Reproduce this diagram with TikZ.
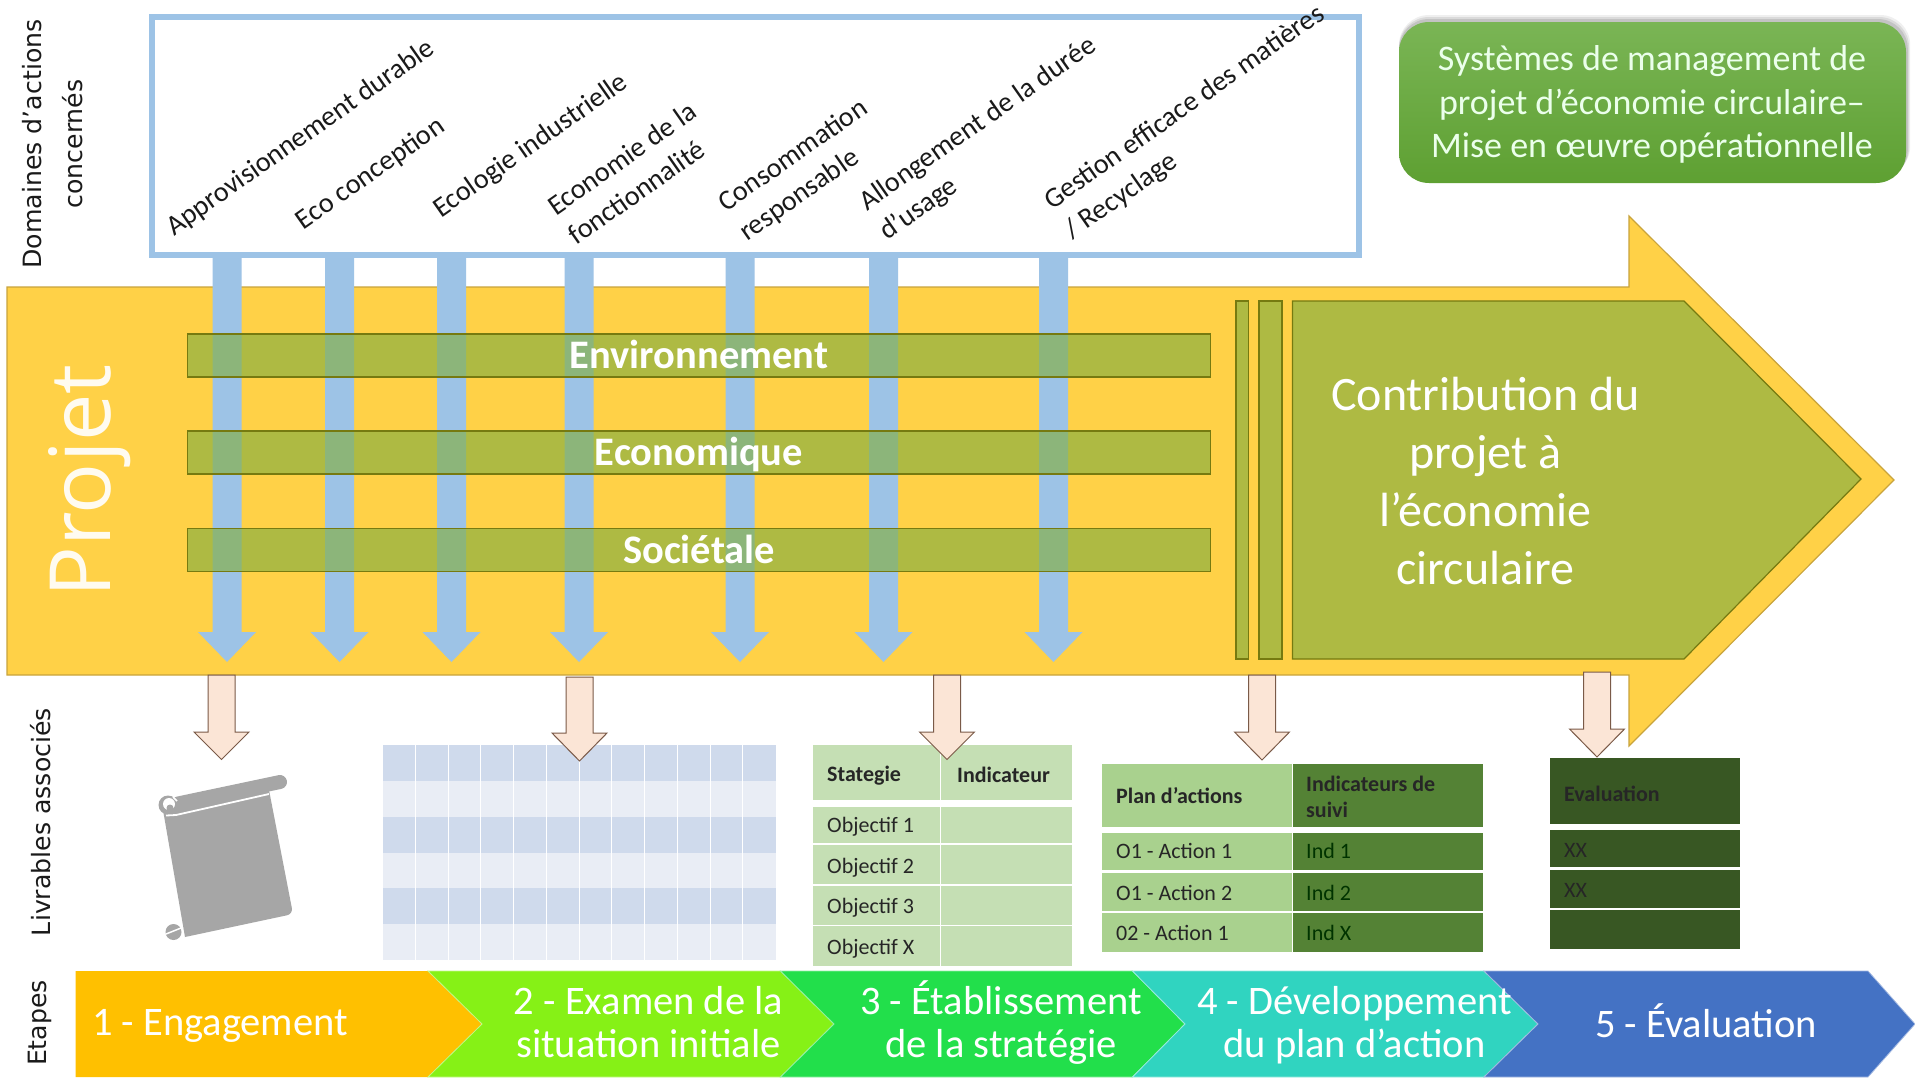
\documentclass[tikz,border=0pt]{standalone}
\usepackage{fontspec}
\setmainfont{Carlito}
\newfontfamily\sidefont{DejaVu Sans}
\newfontfamily\projfont{Open Sans}
\definecolor{gold}{HTML}{FFD147}
\definecolor{goldline}{HTML}{C9A43C}
\definecolor{skyb}{HTML}{9DC3E6}
\definecolor{barg}{HTML}{83AF41}
\definecolor{barline}{HTML}{767A10}
\definecolor{pinkf}{HTML}{FBE5D6}
\definecolor{pinkl}{HTML}{7A5A48}
\definecolor{tdark}{HTML}{CFDAEC}
\definecolor{tlight}{HTML}{E9EDF5}
\definecolor{lgreen}{HTML}{C5DFB4}
\definecolor{mgreen}{HTML}{A9D18E}
\definecolor{dgreen}{HTML}{548235}
\definecolor{xgreen}{HTML}{385723}
\definecolor{chevA}{HTML}{FFC000}
\definecolor{chevB}{HTML}{86F116}
\definecolor{chevC}{HTML}{22DF4B}
\definecolor{chevD}{HTML}{30D4C0}
\definecolor{chevE}{HTML}{4472C4}
\definecolor{inkd}{HTML}{1A1A1A}
\definecolor{scrollg}{HTML}{A6A6A6}
\definecolor{titletop}{HTML}{7AB555}
\definecolor{titlebot}{HTML}{5EA032}
\newcommand{\fs}[2]{\fontsize{#1}{#2}\selectfont}
% block arrow: centre x, top, shoulder, tip, half shaft, half head, style
\newcommand{\blockarrow}[7]{\path[#7] ({#1-#5},#2) -- ({#1+#5},#2) -- ({#1+#5},#3) -- ({#1+#6},#3) -- (#1,#4) -- ({#1-#6},#3) -- ({#1-#5},#3) -- cycle;}
\tikzset{
  x=1pt,y=-1pt,
  barstyle/.style={fill=barg,fill opacity=.65,text opacity=1,draw=barline,line width=1.2pt},
  barlabel/.style={barstyle,text=white,inner sep=0pt,text height=26pt,text depth=0pt,font=\bfseries\fs{40.5}{46}},
  skyarrow/.style={fill=skyb},
  pinkarrow/.style={fill=pinkf,draw=pinkl,line width=1pt},
  rotlab/.style={rotate=35,anchor=north west,inner sep=0pt,align=left,text=inkd,font=\fs{28.2}{36}},
  sidelab/.style={rotate=90,align=center,text=inkd,inner sep=0pt,font=\sidefont\fs{25.2}{41}},
  chevtext/.style={text=white,align=center,inner sep=0pt,font=\fs{40.5}{43}},
  cellA/.style={anchor=west,inner sep=0pt,text=black!85,font=\fs{22}{26}},
  cellB/.style={cellA,font=\bfseries\fs{22}{26}},
  cellD/.style={cellB,align=left},
}
\begin{document}
\begin{tikzpicture}
\useasboundingbox (0,0) rectangle (1915,1077);
\fill[white] (0,0) rectangle (1915,1077);
% main yellow arrow
\path[fill=gold,draw=goldline,line width=1.2pt] (7,287) -- (1629,287) -- (1629,216) -- (1894,480) -- (1629,746) -- (1629,675) -- (7,675) -- cycle;
% blue arrows
\foreach \cx in {227,339.5,451.5,579,740,883.5,1053.5}{\blockarrow{\cx}{256}{632}{662}{14.5}{29}{skyarrow}}
% top frame
\node (frame) [draw=skyb,fill=white,line width=5.5pt,minimum width=1207pt,minimum height=238pt,inner sep=0pt] at (755.5,136) {};
% horizontal bars
\node (env) [barlabel,minimum width=1022.5pt,minimum height=43pt] at (699,355.5) {Environnement};
\node (eco) [barlabel,minimum width=1022.5pt,minimum height=43pt] at (699,452.5) {Economique};
\node (soc) [barlabel,minimum width=1022.5pt,minimum height=43pt] at (699,550) {Sociétale};
% contribution shape and stripes
\path[barstyle] (1236,301) rectangle (1248.5,659);
\path[barstyle] (1259,301) rectangle (1282,659);
\path[barstyle] (1292.5,301) -- (1684,301) -- (1861,479) -- (1684,659) -- (1292.5,659) -- cycle;
\node (contrib) [text=white,align=center,inner sep=0pt,font=\fs{48}{58}] at (1485.5,481) {Contribution du\\projet à\\l’économie\\circulaire};
% title box
\foreach \o/\p in {7/.12,5/.18,3/.25}{\fill[gray,opacity=\p,rounded corners=30pt] (1399,{22-\o}) rectangle ({1906+\o*.6},{183-\o});}
\node (title) [top color=titletop,bottom color=titlebot,rounded corners=30pt,minimum width=507pt,minimum height=161pt,inner sep=0pt] at (1652.5,102.5) {};
\node (titletext) [text=white!92!green,align=center,inner sep=0pt,font=\fs{36}{43.5}] at (1652,104.5) {Systèmes de management de\\projet d’économie circulaire–\\Mise en œuvre opérationnelle};
% side labels
\node (domaines) [sidelab] at (53,144) {Domaines d’actions\\concernés};
\node (livrables) [sidelab] at (41,822) {Livrables associés};
\node (etapes) [sidelab] at (40,1023) {Etapes};
\node (projet) [rotate=90,anchor=base,inner sep=0pt,text=white!92!gold,font=\projfont\fs{84.5}{90}] at (110,481) {Projet};
% rotated labels
\node (l1) [rotlab] at (162.5,220) {Approvisionnement durable};
\node (l2) [rotlab] at (292.5,214) {Eco conception};
\node (l3) [rotlab] at (429.5,202) {Ecologie industrielle};
\node (l4) [rotlab] at (544.5,200) {Economie de la\\fonctionnalité};
\node (l5) [rotlab] at (715,196) {Consommation\\responsable};
\node (l6) [rotlab] at (855.5,195) {Allongement de la durée\\d’usage};
\node (l7) [rotlab] at (1040.5,194) {Gestion efficace des matières\\/ Recyclage};
% scroll
\fill[scrollg] (163,810) -- (269,790) [rounded corners=6pt] -- (293,914) [sharp corners] -- (185,937) -- cycle;
\draw[scrollg,line width=14pt,line cap=round] (178,803.5) -- (280,782);
\fill[scrollg] (168,805) circle[radius=9.5pt];
\fill[white] (169,804) circle[radius=6pt];
\fill[scrollg] (170,808) circle[radius=3.5pt];
\draw[white,line width=1.8pt] (166,815.5) -- (176,815) -- (269,794);
\draw[white,line width=1.5pt] (173,797) -- (177,801);
\fill[scrollg] (173.5,932) circle[radius=8pt];
\draw[white,line width=1.5pt] (166,934) -- (181,928);
% table 1
\foreach \r in {0,...,5}{
  \pgfmathsetmacro{\ya}{745+\r*35.83}
  \pgfmathsetmacro{\yb}{745+(\r+1)*35.83}
  \pgfmathtruncatemacro{\odd}{mod(\r,2)}
  \ifnum\odd=0 \fill[tdark] (382.6,\ya) rectangle (775.5,\yb); \else \fill[tlight] (382.6,\ya) rectangle (775.5,\yb); \fi
}
\foreach \c in {1,...,11}{\draw[white,line width=.8pt] ({382.6+\c*32.74},745) -- ({382.6+\c*32.74},960);}
% table 2
\fill[lgreen] (812.6,745) rectangle (1071.7,800);
\fill[lgreen] (812.6,806.5) rectangle (1071.7,965.7);
\foreach \yy in {844,885,925.7}{\draw[white,line width=1.5pt] (812.6,\yy) -- (1071.7,\yy);}
\draw[white,line width=1.5pt] (940.7,745) -- (940.7,965.7);
\node (t2h1) [cellB] at (827,776) {Stategie};
\node (t2h2) [cellB] at (957,775) {Indicateur};
\node (t2r1) [cellA] at (827,827) {Objectif 1};
\node (t2r2) [cellA] at (827,867.5) {Objectif 2};
\node (t2r3) [cellA] at (827,908) {Objectif 3};
\node (t2r4) [cellA] at (827,948.5) {Objectif X};
% table 3
\foreach \ya/\yb in {764/827,833/870,873/911,913/952}{
  \fill[mgreen] (1102,\ya) rectangle (1292.5,\yb);
  \fill[dgreen] (1292.5,\ya) rectangle (1483,\yb);
}
\draw[white,line width=1pt] (1292.5,764) -- (1292.5,952);
\node (t3h1) [cellB] at (1116,796) {Plan d’actions};
\node (t3h2) [cellD] at (1306,797) {Indicateurs de\\suivi};
\node (t3a1) [cellA] at (1116,851) {O1 - Action 1};
\node (t3a2) [cellA] at (1116,893) {O1 - Action 2};
\node (t3a3) [cellA] at (1116,933) {02 - Action 1};
\node (t3b1) [cellA,text=black!80!green] at (1306,851) {Ind 1};
\node (t3b2) [cellA,text=black!80!green] at (1306,893) {Ind 2};
\node (t3b3) [cellA,text=black!80!green] at (1306,933) {Ind X};
% table 4
\foreach \ya/\yb in {758/824,830/867,870/908,910/949}{\fill[xgreen] (1550,\ya) rectangle (1740,\yb);}
\node (t4h) [cellB] at (1564,794) {Evaluation};
\node (t4a) [cellA] at (1564,850) {XX};
\node (t4b) [cellA] at (1564,890) {XX};
% pink arrows
\blockarrow{221.5}{675}{732}{759.5}{13.5}{27.5}{pinkarrow}
\blockarrow{579.5}{677}{733}{761}{13.5}{27.5}{pinkarrow}
\blockarrow{947}{675}{732}{759.5}{13.5}{27.5}{pinkarrow}
\blockarrow{1262}{675}{732}{760}{13.5}{27.5}{pinkarrow}
\blockarrow{1597}{672}{729}{757}{13.5}{27.5}{pinkarrow}
% step chevrons
\path[fill=chevA] (75.5,971) -- (428,971) -- (482,1024) -- (428,1077) -- (75.5,1077) -- cycle;
\path[fill=chevB,draw=white!50!chevB,line width=.8pt] (428,971) -- (780.5,971) -- (834,1024) -- (780.5,1077) -- (428,1077) -- (482,1024) -- cycle;
\path[fill=chevC,draw=white!50!chevC,line width=.8pt] (780.5,971) -- (1132.5,971) -- (1185,1024) -- (1132.5,1077) -- (780.5,1077) -- (834,1024) -- cycle;
\path[fill=chevD,draw=white!50!chevD,line width=.8pt] (1132.5,971) -- (1484,971) -- (1538,1024) -- (1484,1077) -- (1132.5,1077) -- (1185,1024) -- cycle;
\path[fill=chevE,draw=white!50!chevE,line width=.8pt] (1484,971) -- (1868,971) -- (1915,1024) -- (1868,1077) -- (1484,1077) -- (1538,1024) -- cycle;
\node (s1) [chevtext] at (220,1026) {1 - Engagement};
\node (s2) [chevtext] at (648.5,1022.5) {2 - Examen de la\\situation initiale};
\node (s3) [chevtext] at (1001,1022.5) {3 - Établissement\\de la stratégie};
\node (s4) [chevtext] at (1354.5,1025) {4 - Développement\\du plan d’action};
\node (s5) [chevtext] at (1706,1021) {5 - Évaluation};
\end{tikzpicture}
\end{document}
